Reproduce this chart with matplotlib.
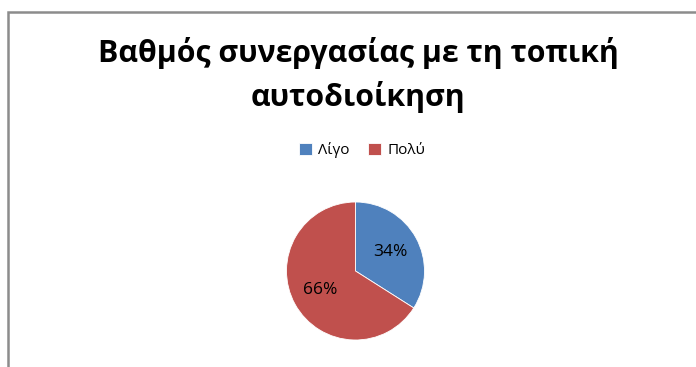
import matplotlib.pyplot as plt
from matplotlib.patches import Rectangle

plt.rcParams['font.family'] = ['Open Sans', 'DejaVu Sans']

# Δεδομένα
categories = ['Λίγο', 'Πολύ']
values = [34, 66]
colors = ['#4F81BD', '#C0504D']
title = 'Βαθμός συνεργασίας με τη τοπική\nαυτοδιοίκηση'

W, H = 696, 367
fig = plt.figure(figsize=(W / 100, H / 100), dpi=100)

# πλαίσιο γραφήματος
fig.patches.append(Rectangle((8 / W, -0.1), 1.2, (H - 12) / H + 0.1,
                             transform=fig.transFigure, fill=False,
                             edgecolor='#8c8c8c', linewidth=1.8))

fig.text(358 / W, 1 - 75 / H, title, ha='center', va='center',
         fontsize=21.8, fontweight='bold', linespacing=1.5)

# πίτα
cx, cy, r = 355.5, 271, 69
ax = fig.add_axes([(cx - r) / W, (H - cy - r) / H, 2 * r / W, 2 * r / H])
wedges, texts, autotexts = ax.pie(values, colors=colors, startangle=90,
                                  counterclock=False, autopct='%d%%',
                                  pctdistance=0.58,
                                  wedgeprops=dict(edgecolor='white', linewidth=0.6),
                                  textprops=dict(fontsize=12.5, color='black'))
ax.set_xlim(-1, 1)
ax.set_ylim(-1, 1)
ax.set_aspect('auto')
ax.axis('off')

fig.legend(wedges, categories, loc='center', bbox_to_anchor=(362 / W, 1 - 150 / H),
           ncol=2, frameon=False, fontsize=11, handlelength=0.85, handleheight=0.85,
           handletextpad=0.4, columnspacing=1.2)

fig.savefig('out.png', dpi=100, facecolor='white')
